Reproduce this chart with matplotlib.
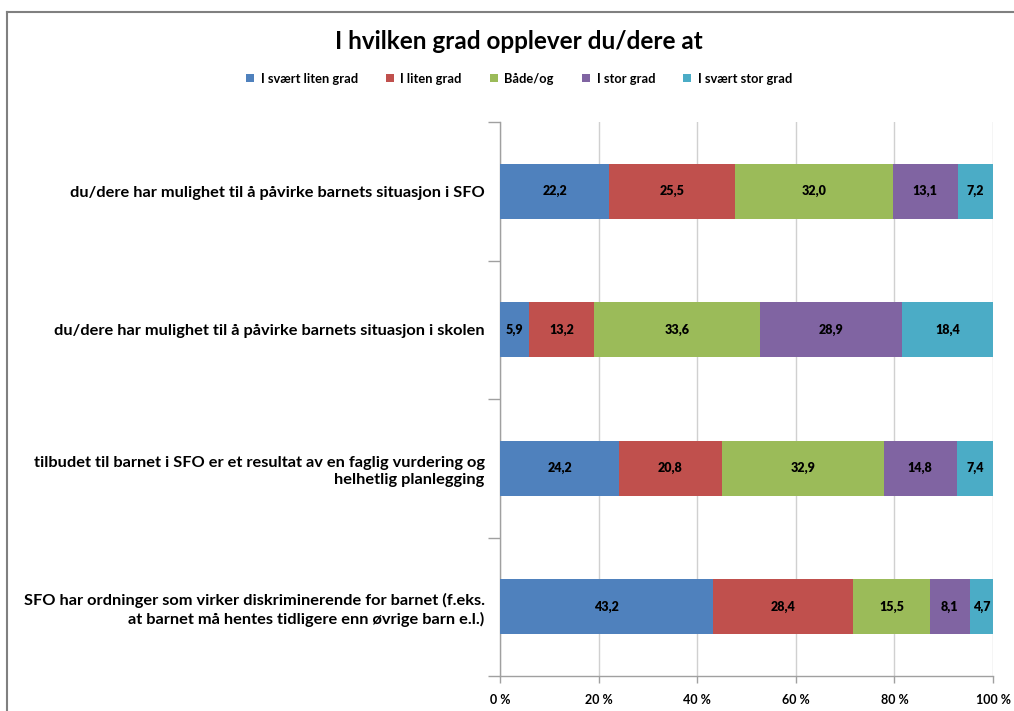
import matplotlib
matplotlib.use("Agg")
import matplotlib.pyplot as plt
import numpy as np
from matplotlib.lines import Line2D

plt.rcParams['font.family'] = ['Lato', 'DejaVu Sans']

categories = [
    "du/dere har mulighet til å påvirke barnets situasjon i SFO",
    "du/dere har mulighet til å påvirke barnets situasjon i skolen",
    "tilbudet til barnet i SFO er et resultat av en faglig vurdering og\nhelhetlig planlegging",
    "SFO har ordninger som virker diskriminerende for barnet (f.eks.\nat barnet må hentes tidligere enn øvrige barn e.l.)",
]
series_names = ["I svært liten grad", "I liten grad", "Både/og", "I stor grad", "I svært stor grad"]
svaert_liten = [22.2, 5.9, 24.2, 43.2]
liten = [25.5, 13.2, 20.8, 28.4]
baade_og = [32.0, 33.6, 32.9, 15.5]
stor = [13.1, 28.9, 14.8, 8.1]
svaert_stor = [7.2, 18.4, 7.4, 4.7]
colors = ["#4F81BD", "#C0504D", "#9BBB59", "#8064A2", "#4BACC6"]
x_ticks = [0, 20, 40, 60, 80, 100]
x_ticklabels = ["0 %", "20 %", "40 %", "60 %", "80 %", "100 %"]

data = np.array([svaert_liten, liten, baade_og, stor, svaert_stor])
shares = data / data.sum(axis=0) * 100

fig = plt.figure(figsize=(10.14, 7.11), dpi=100)
ax = fig.add_axes([0.4931, 0.0492, 0.4862, 0.7792])

y = np.arange(len(categories))
left = np.zeros(len(categories))
for i, name in enumerate(series_names):
    bars = ax.barh(y, shares[i], left=left, height=0.4, color=colors[i], label=name, zorder=3)
    for j, b in enumerate(bars):
        ax.text(left[j] + shares[i][j] / 2, y[j], f"{data[i][j]:.1f}".replace(".", ","),
                ha="center", va="center", fontsize=9, fontweight="heavy", color="black", zorder=4)
    left += shares[i]

ax.set_xlim(0, 100)
ax.set_ylim(len(categories) - 0.5, -0.5)
ax.set_xticks(x_ticks)
ax.set_xticklabels(x_ticklabels, fontsize=9, fontweight="bold")
ax.set_yticks(y)
ax.set_yticklabels(categories, fontsize=11.8, fontweight="bold", linespacing=1.3)
ax.tick_params(axis="y", which="major", length=0, pad=11)
ax.set_yticks(np.arange(-0.5, len(categories), 1), minor=True)
ax.tick_params(axis="y", which="minor", length=9, color="#A0A0A0", width=1)
ax.tick_params(axis="x", length=5, color="#A0A0A0", width=1, pad=8)
ax.grid(axis="x", color="#D0D0D0", linewidth=1, zorder=0)
for s in ["top", "right"]:
    ax.spines[s].set_visible(False)
for s in ["left", "bottom"]:
    ax.spines[s].set_color("#A0A0A0")
    ax.spines[s].set_linewidth(1)

fig.suptitle("I hvilken grad opplever du/dere at", x=0.512, y=0.958, fontsize=17.5, fontweight="bold")
leg = fig.legend(loc="center", bbox_to_anchor=(0.512, 0.889), ncol=5, frameon=False,
                 fontsize=9.3, handlelength=0.6, handleheight=0.6, handletextpad=0.5,
                 columnspacing=2.2)
for t in leg.get_texts():
    t.set_fontweight("bold")

# outer chart border (top and left edges visible)
fig.add_artist(Line2D([7/1014, 1.0], [1 - 12/711, 1 - 12/711], transform=fig.transFigure,
                      color="#808080", linewidth=1.5))
fig.add_artist(Line2D([7/1014, 7/1014], [0, 1 - 12/711], transform=fig.transFigure,
                      color="#808080", linewidth=1.5))

fig.savefig("out.png", dpi=100)
